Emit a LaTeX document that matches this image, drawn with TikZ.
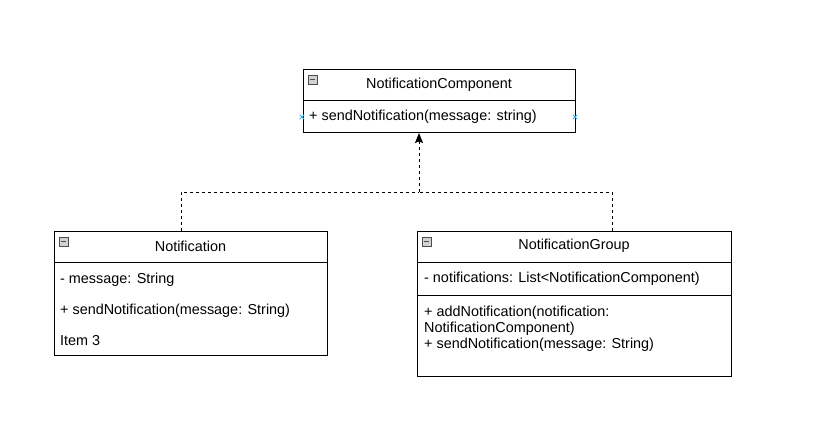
\documentclass[tikz,border=0pt]{standalone}
\usepackage{fontspec}
\setmainfont{Liberation Sans}
\usetikzlibrary{arrows.meta}
\definecolor{mkblue}{HTML}{29B6F2}
\begin{document}
\begin{tikzpicture}[x=1pt,y=-1pt,
  classbox/.style={draw=black, line width=1pt, rectangle, inner sep=0pt, anchor=north west},
  txt/.style={font=\fontsize{14.4}{16}\selectfont, inner sep=0pt, anchor=west},
  title/.style={font=\fontsize{14.4}{16}\selectfont, inner sep=0pt},
  divider/.style={draw=black, line width=1pt},
  conn/.style={draw=black, line width=1pt, dash pattern=on 3pt off 3pt},
  tip/.style={-{Stealth[length=10pt,width=8pt,inset=1.5pt]}},
  icon/.style={draw=gray!60!black, fill=gray!35, line width=0.6pt, minimum size=9pt, inner sep=0pt,
    path picture={\draw[black!70, line width=1pt] ([xshift=2pt]path picture bounding box.west) -- ([xshift=-2pt]path picture bounding box.east);}},
  markline/.style={draw=mkblue, line width=0.9pt}
]
\useasboundingbox[fill=white] (0,0) rectangle (817,429);

% NotificationComponent
\node[classbox, minimum width=272pt, minimum height=63pt] (comp) at (303,69) {};
\draw[divider] (303,100.5) -- (575,100.5);
\node[icon] (compicon) at (312.5,79.5) {};
\node[title] (comptitle) at (439,85) {NotificationComponent};
\node[txt] (compm) at (309,117) {+ sendNotification(message: string)};
\coordinate (mk1) at (302,117);
\coordinate (mk2) at (575,117);
\foreach \m in {mk1,mk2}{
  \draw[markline] ([shift={(-2.2,-2.2)}]\m) -- ([shift={(2.2,2.2)}]\m)
                  ([shift={(-2.2,2.2)}]\m) -- ([shift={(2.2,-2.2)}]\m);
}

% Notification
\node[classbox, minimum width=273pt, minimum height=124pt] (notif) at (54,231) {};
\draw[divider] (54,262.5) -- (327,262.5);
\node[icon] (notificon) at (63.5,241.5) {};
\node[title] (notiftitle) at (190.5,246) {Notification};
\node[txt] (notifa) at (60,280) {- message: String};
\node[txt] (notifm) at (60,311) {+ sendNotification(message: String)};
\node[txt] (notifi) at (60,341) {Item 3};

% NotificationGroup
\node[classbox, minimum width=314pt, minimum height=145pt] (group) at (417,231) {};
\draw[divider] (417,262.5) -- (731,262.5);
\draw[divider] (417,295.5) -- (731,295.5);
\node[icon] (groupicon) at (426.5,241.5) {};
\node[title] (grouptitle) at (574,246) {NotificationGroup};
\node[txt] (groupa) at (424,279) {- notifications: List<NotificationComponent)};
\node[txt] (groupm1) at (424,313) {+ addNotification(notification:};
\node[txt] (groupm1b) at (424,328.5) {NotificationComponent)};
\node[txt] (groupm2) at (424,345) {+ sendNotification(message: String)};

% connectors
\coordinate (j) at (419,192);
\draw[conn] ([xshift=127pt]notif.north west) |- (j);
\draw[conn] ([xshift=195pt]group.north west) |- (j);
\draw[conn, tip] (j) -- ([xshift=116pt]comp.south west);
\end{tikzpicture}
\end{document}
